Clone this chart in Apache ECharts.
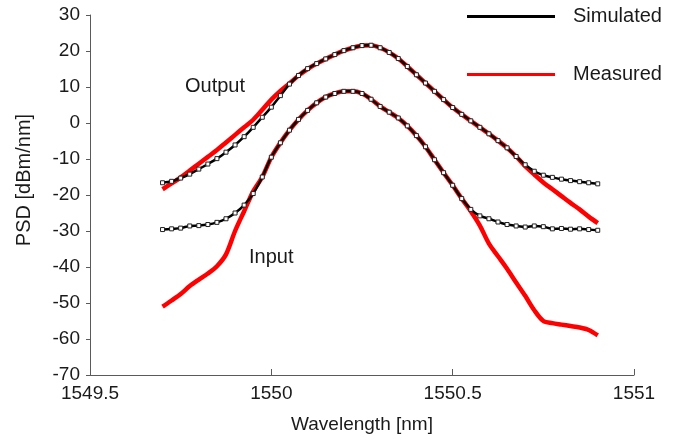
<!DOCTYPE html>
<html>
<head>
<meta charset="utf-8">
<script src="https://cdn.jsdelivr.net/npm/echarts@6/dist/echarts.min.js"></script>
<style>
  html, body { margin: 0; padding: 0; background: #fff; }
  #chart { width: 679px; height: 442px; }
</style>
</head>
<body>
<div id="chart"></div>
<script>
// wavelength grid [nm]
const wavelength = [
  1549.700, 1549.725, 1549.750, 1549.775, 1549.800, 1549.825, 1549.850, 1549.875, 1549.900, 1549.925,
  1549.950, 1549.975, 1550.000, 1550.025, 1550.050, 1550.075, 1550.100, 1550.125, 1550.150, 1550.175,
  1550.200, 1550.225, 1550.250, 1550.275, 1550.300, 1550.325, 1550.350, 1550.375, 1550.400, 1550.425,
  1550.450, 1550.475, 1550.500, 1550.525, 1550.550, 1550.575, 1550.600, 1550.625, 1550.650, 1550.675,
  1550.700, 1550.725, 1550.750, 1550.775, 1550.800, 1550.825, 1550.850, 1550.875, 1550.900
]
// 仿真 - 输出
const outputSimulated = [
  -16.6, -16.2, -15.3, -14.2, -12.8, -11.4, -9.9, -8.1, -6.1, -3.8,
  -1.2, 1.6, 4.4, 7.6, 10.8, 13.2, 15.1, 16.5, 17.8, 19.0,
  20.1, 20.9, 21.5, 21.6, 20.9, 19.6, 17.9, 15.7, 13.4, 11.1,
  8.8, 6.5, 4.3, 2.4, 0.6, -1.2, -3.0, -4.9, -6.9, -9.3,
  -11.6, -13.4, -14.5, -15.1, -15.6, -16.0, -16.3, -16.6, -16.9
]
// 仿真 - 输入
const inputSimulated = [
  -29.6, -29.4, -29.2, -28.6, -28.5, -28.2, -27.6, -26.6, -25.0, -22.8,
  -19.6, -15.0, -9.5, -5.5, -2.0, 1.0, 3.5, 5.6, 7.2, 8.2,
  8.8, 8.8, 8.2, 6.6, 4.6, 3.0, 1.4, -0.8, -3.5, -6.6,
  -10.2, -13.8, -17.3, -21.0, -24.0, -25.8, -26.6, -27.5, -28.2, -28.6,
  -28.9, -28.6, -28.8, -29.4, -29.3, -29.5, -29.4, -29.6, -29.8
]
// 实测 - 输出
const outputMeasured = [
  -18.4, -16.8, -15.1, -13.2, -11.3, -9.4, -7.5, -5.4, -3.3, -1.2,
  0.9, 3.7, 6.5, 8.9, 11.0, 13.2, 15.0, 16.5, 17.8, 19.0,
  20.1, 20.9, 21.5, 21.6, 20.9, 19.6, 17.9, 15.7, 13.4, 11.1,
  8.8, 6.5, 4.3, 2.4, 0.6, -1.2, -3.0, -4.9, -6.9, -9.3,
  -12.0, -14.3, -16.5, -18.4, -20.3, -22.2, -24.0, -26.0, -27.8
]
// 实测 - 输入
const inputMeasured = [
  -51.0, -49.3, -47.5, -45.3, -43.5, -41.8, -39.8, -36.5, -30.0, -24.5,
  -19.0, -15.0, -9.5, -5.5, -2.0, 1.0, 3.5, 5.6, 7.2, 8.2,
  8.8, 8.8, 8.2, 6.6, 4.6, 3.0, 1.4, -0.8, -3.5, -6.6,
  -10.2, -13.8, -17.3, -21.0, -24.5, -28.5, -33.5, -37.0, -40.5, -44.3,
  -48.0, -52.0, -55.0, -55.6, -56.0, -56.4, -56.8, -57.5, -59.0
]
// 坐标刻度
const xTicks = [1549.5, 1550, 1550.5, 1551]
const yTicks = [-70, -60, -50, -40, -30, -20, -10, 0, 10, 20, 30]

const pairs = ys => wavelength.map((x, i) => [x, ys[i]])

const font = 'Liberation Sans, Arial, sans-serif'
const textColor = '#1a1a1a'
const axisColor = '#5a5a5a'

const measuredStyle = name => ({
  name,
  type: 'line',
  smooth: 0.3,
  showSymbol: false,
  lineStyle: { color: '#ff0000', width: 4.5 },
  itemStyle: { color: '#ff0000' },
  z: 2
})
const simulatedStyle = name => ({
  name,
  type: 'line',
  smooth: 0.3,
  symbol: 'rect',
  symbolSize: 4,
  showAllSymbol: true,
  lineStyle: { color: '#000', width: 2.5 },
  itemStyle: { color: '#fff', borderColor: '#222', borderWidth: 1 },
  z: 3
})

const chart = echarts.init(document.getElementById('chart'))
const option = {
  animation: false,
  backgroundColor: '#fff',
  grid: { left: 90, right: 45, top: 15, bottom: 67 },
  legend: {
    orient: 'vertical',
    left: 462,
    top: 0,
    itemWidth: 88,
    itemHeight: 3,
    itemGap: 35,
    textStyle: { fontFamily: font, fontSize: 20, color: textColor, lineHeight: 23, padding: [0, 0, 0, 13] },
    data: [
      { name: 'Simulated', icon: 'rect', itemStyle: { color: '#000', borderWidth: 0 } },
      { name: 'Measured', icon: 'rect', itemStyle: { color: '#ff0000', borderWidth: 0 } }
    ]
  },
  xAxis: {
    type: 'value',
    min: xTicks[0],
    max: xTicks[xTicks.length - 1],
    interval: 0.5,
    name: 'Wavelength [nm]',
    nameLocation: 'middle',
    nameGap: 40,
    nameTextStyle: { fontFamily: font, fontSize: 19, color: textColor },
    axisLine: { onZero: false, lineStyle: { color: axisColor } },
    axisTick: { inside: true, length: 6, lineStyle: { color: axisColor } },
    axisLabel: { fontFamily: font, fontSize: 19, color: textColor, margin: 9, formatter: v => String(v) },
    splitLine: { show: false }
  },
  yAxis: {
    type: 'value',
    min: yTicks[0],
    max: yTicks[yTicks.length - 1],
    interval: 10,
    name: 'PSD [dBm/nm]',
    nameLocation: 'middle',
    nameGap: 56,
    nameTextStyle: { fontFamily: font, fontSize: 20, color: textColor, padding: [0, 0, 0, 30] },
    axisLine: { show: true, onZero: false, lineStyle: { color: axisColor } },
    axisTick: { show: true, length: 4, lineStyle: { color: axisColor } },
    axisLabel: { fontFamily: font, fontSize: 19, color: textColor, margin: 10 },
    splitLine: { show: false }
  },
  graphic: [
    { type: 'text', left: 185, top: 76, style: { text: 'Output', font: '20px ' + font, fill: textColor } },
    { type: 'text', left: 249, top: 247, style: { text: 'Input', font: '20px ' + font, fill: textColor } }
  ],
  series: [
    Object.assign(measuredStyle('Measured'), { data: pairs(outputMeasured) }),
    Object.assign(measuredStyle('Measured'), { data: pairs(inputMeasured) }),
    Object.assign(simulatedStyle('Simulated'), { data: pairs(outputSimulated) }),
    Object.assign(simulatedStyle('Simulated'), { data: pairs(inputSimulated) })
  ]
}
chart.setOption(option)
</script>
</body>
</html>
